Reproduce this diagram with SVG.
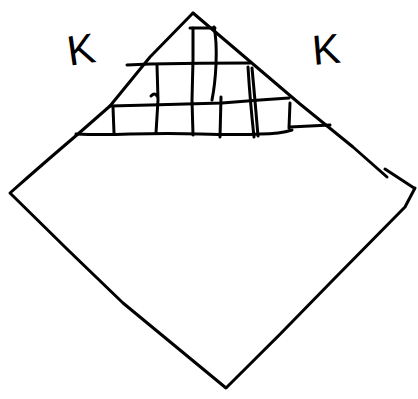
<svg xmlns="http://www.w3.org/2000/svg" width="418" height="399" viewBox="0 0 418 399">
<style>
.s{fill:none;stroke:#000;stroke-width:3;stroke-linecap:round;stroke-linejoin:round}
.k{font-family:"Liberation Sans",Arial,sans-serif;font-size:42px;fill:#000}
</style>
<rect width="418" height="399" fill="#fff"/>
<g id="outline">
<path class="s" d="M193,13 L150,57 L110,106 L78,134 Q45,162 10,193 L68,250 L123,303 L226,388 Q280,335 333,280 L405,207 L415,188"/>
<path class="s" d="M193,13 L253,64 L300,104 L353,147 L387,177"/>
<path class="s" d="M385,169 L414,188"/>
</g>
<g id="grid">
<path class="s" d="M127,65 L150,64 Q200,63 250,63"/>
<path class="s" d="M110,106 L150,105 Q190,104 222,103 L260,100 L289,98"/>
<path class="s" d="M76,134 Q100,135 130,134 Q170,133 200,134 Q240,135 260,134 Q280,134 292,130"/>
<path class="s" d="M290,127 L330,125"/>
<path class="s" d="M193,28 L193,60 L192,100 L193,135"/>
<path class="s" d="M190,28 L215,28"/>
<path class="s" d="M214,27 Q217,40 216,65 Q215,85 212,100"/>
<path class="s" d="M157,65 L158,100 L156,133"/>
<path class="s" d="M151,96 Q155,92 157,96"/>
<path class="s" d="M113,107 L114,133"/>
<path class="s" d="M221,97 L220,137"/>
<path class="s" d="M248,67 Q250,100 254,137"/>
<path class="s" d="M252,68 Q255,100 258,136"/>
<path class="s" d="M290,103 L289,128"/>
</g>
<g id="labels">
<text class="k" x="67" y="64" transform="rotate(-8 80 48)">K</text>
<text class="k" x="312" y="64" transform="rotate(-5 325 48)">K</text>
</g>
</svg>
